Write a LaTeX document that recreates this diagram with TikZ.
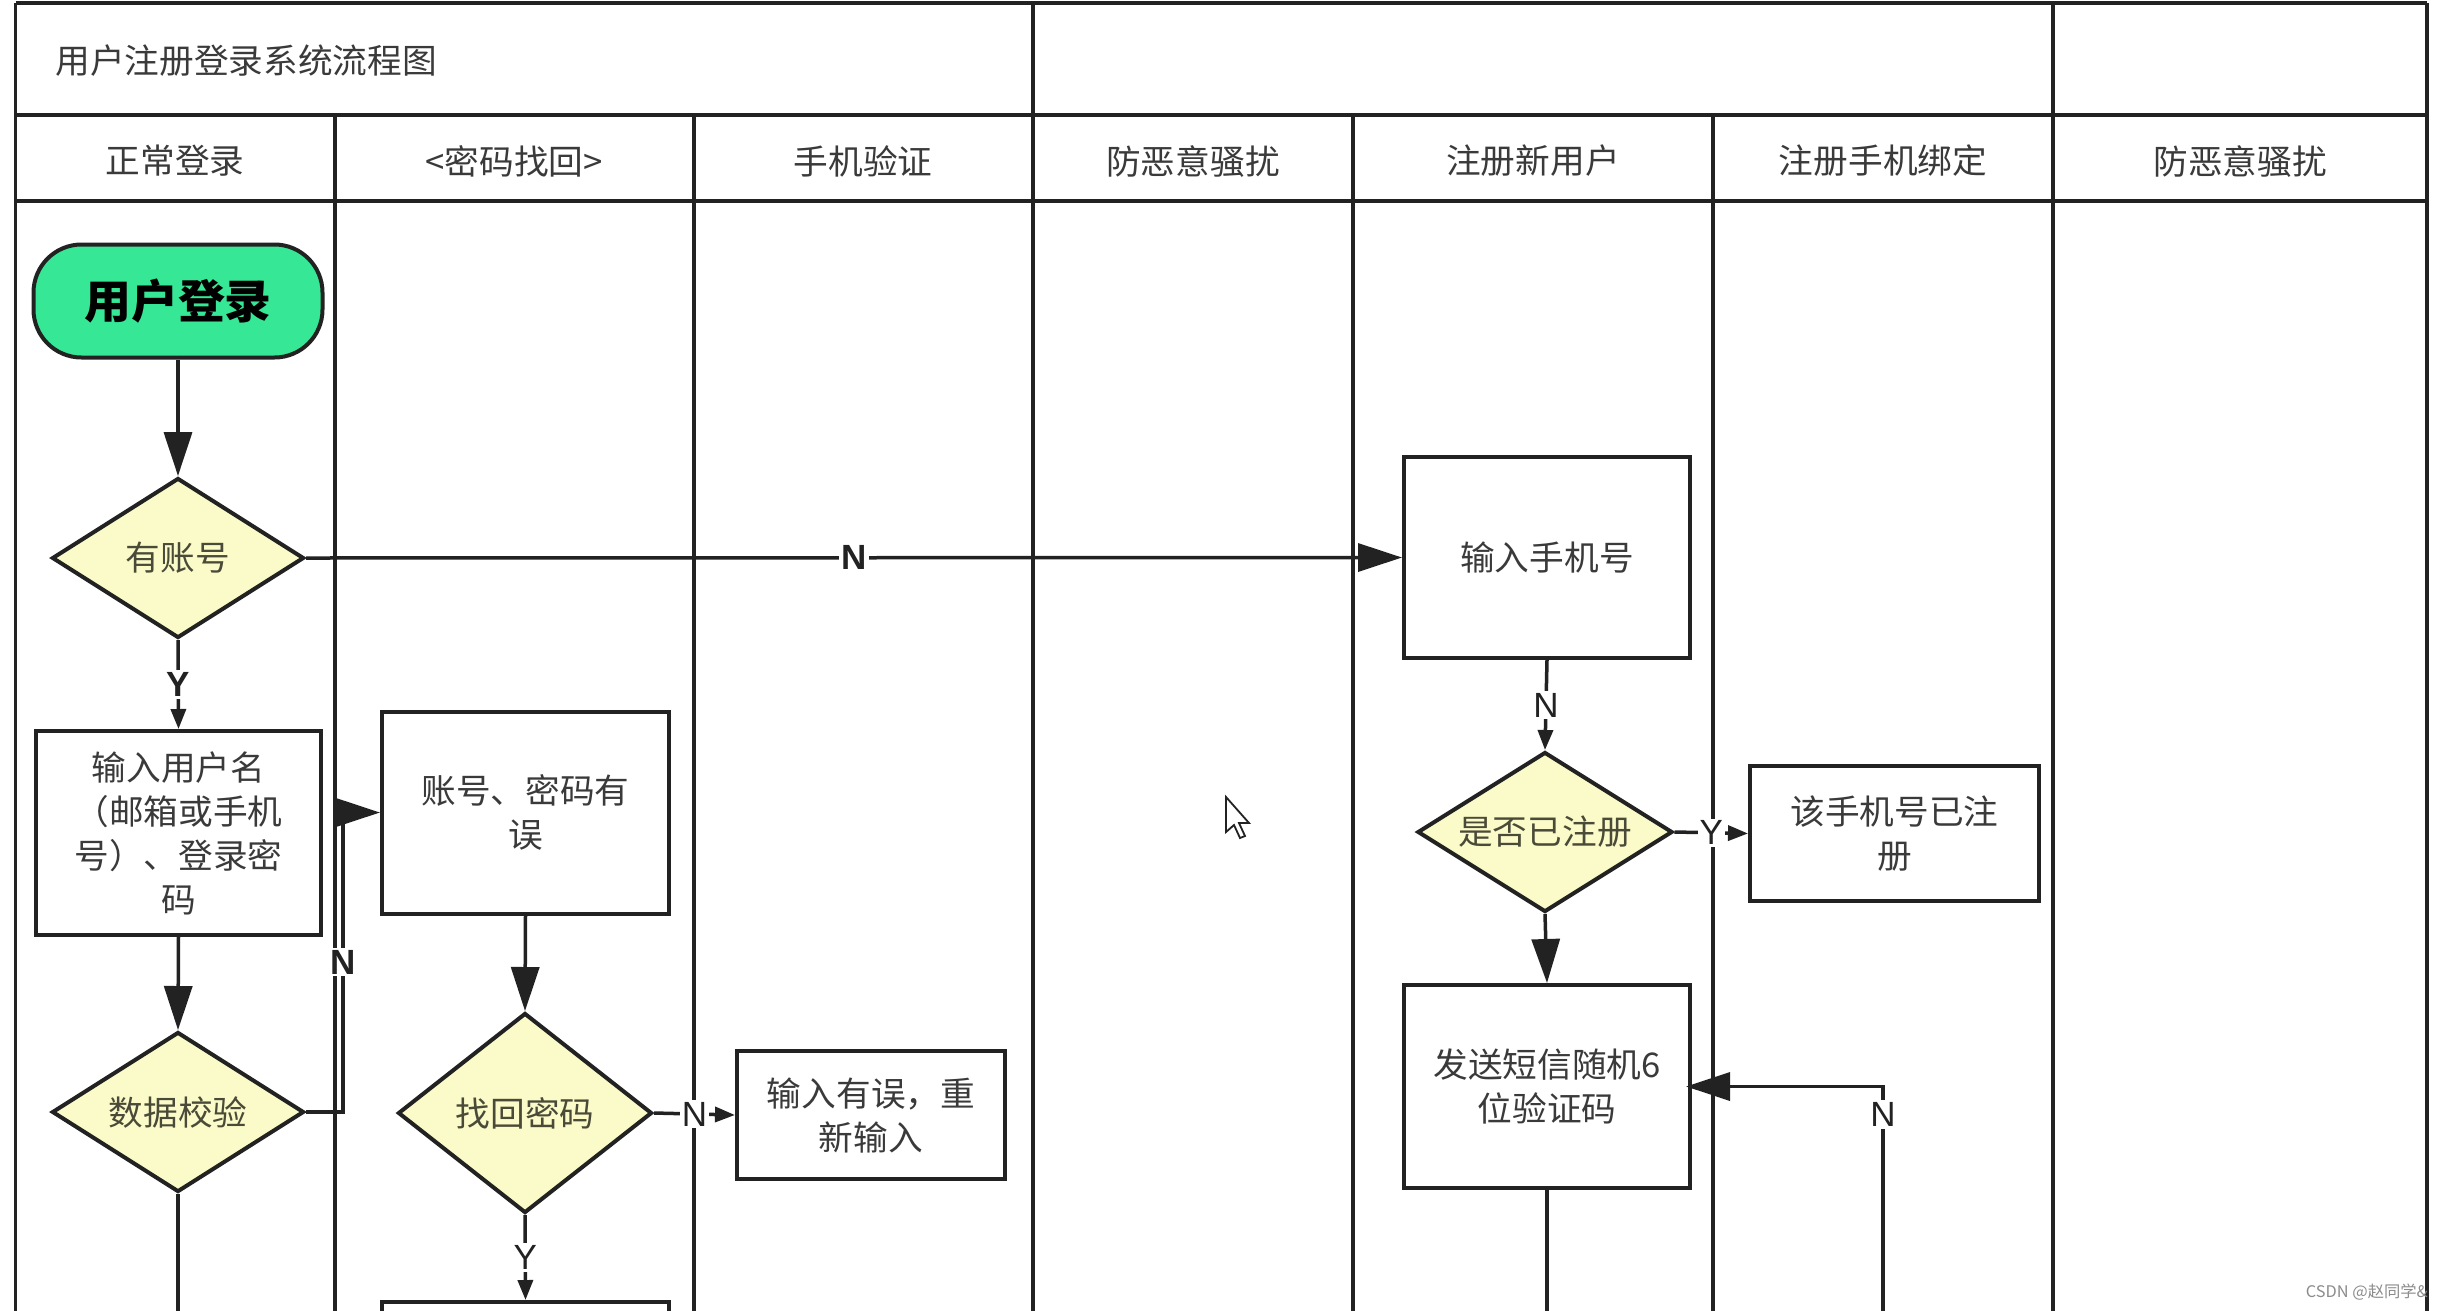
\documentclass[tikz,border=0pt]{standalone}
\usepackage{fontspec}
\setmainfont{Noto Sans CJK SC}[FakeStretch=1.02]
\newfontfamily\latinf{Liberation Sans}
\usetikzlibrary{shapes.geometric,arrows.meta}
\definecolor{linec}{HTML}{222222}
\definecolor{txt}{HTML}{3A3A3A}
\definecolor{dectxt}{HTML}{4A4A38}
\definecolor{decfill}{HTML}{FBFBC9}
\definecolor{startgreen}{HTML}{36E896}
\newcommand\boxfont{\fontsize{34}{44}\selectfont}
\newcommand\startfont{\fontsize{46}{50}\selectfont\bfseries}
\newcommand\labfont{\latinf\fontsize{35}{38}\selectfont}
\newcommand\labfontb{\latinf\bfseries\fontsize{35}{38}\selectfont}
\tikzset{
  grid/.style={line width=3.5pt, draw=linec},
  proc/.style={rectangle, draw=linec, line width=4pt, fill=white, inner sep=0pt, align=center, text=txt, font=\boxfont},
  dec/.style={diamond, draw=linec, line width=4pt, fill=decfill, inner sep=0pt, aspect=1.6, align=center, text=dectxt, font=\boxfont, minimum width=252pt, minimum height=160pt},
  term/.style={rectangle, rounded corners=48pt, draw=linec, line width=4pt, fill=startgreen, font=\startfont, text=black, minimum width=289pt, minimum height=113pt},
  conn/.style={draw=linec, line width=3.5pt},
  bigarr/.style={-{Triangle[length=44pt,width=28pt]}},
  smallarr/.style={-{Triangle[length=20pt,width=15pt]}},
  lab/.style={fill=white, inner sep=2pt, font=\labfont, text=linec},
  labb/.style={fill=white, inner sep=2pt, font=\labfontb, text=linec},
  headtxt/.style={font=\boxfont, text=txt},
}
\begin{document}
\begin{tikzpicture}[x=1pt,y=-1pt]
\clip (0,0) rectangle (2444,1310);
\fill[white] (0,0) rectangle (2444,1310);

% grid
\draw[grid] (15.6,3) -- (15.6,1320);
\draw[grid] (2427,3) -- (2427,1320);
\draw[grid] (15.6,3) -- (2427,3);
\draw[grid] (15.6,115) -- (2427,115);
\draw[grid] (15.6,201) -- (2427,201);
\foreach \x in {335,694,1353,1713} \draw[grid] (\x,115) -- (\x,1320);
\foreach \x in {1033,2053} \draw[grid] (\x,3) -- (\x,1320);

% title and headers
\node[headtxt, anchor=west] (title) at (52,61) {用户注册登录系统流程图};
\node[headtxt] (h1) at (175,161) {正常登录};
\node[headtxt] (h2) at (514,161) {<密码找回>};
\node[headtxt] (h3) at (863,161) {手机验证};
\node[headtxt] (h4) at (1193,161) {防恶意骚扰};
\node[headtxt] (h5) at (1533,161) {注册新用户};
\node[headtxt] (h6) at (1883,161) {注册手机绑定};
\node[headtxt] (h7) at (2240,161) {防恶意骚扰};

% nodes
\node[term] (start) at (178,301) {用户登录};
\node[dec] (has) at (178,558) {有账号};
\node[proc, minimum width=285pt, minimum height=204pt] (input) at (178.5,833) {输入用户名\\（邮箱或手机\\号）、登录密\\码};
\node[dec] (check) at (178,1112) {数据校验};
\node[proc, minimum width=287pt, minimum height=202pt] (err) at (525.5,812.5) {账号、密码有\\误};
\node[dec, minimum width=254pt, minimum height=200pt] (find) at (525,1113) {找回密码};
\node[proc, minimum width=268pt, minimum height=128pt] (retry) at (871,1115) {输入有误，重\\新输入};
\node[proc, minimum width=287pt, minimum height=120pt, anchor=north] (nextbox) at (525.5,1300) {};
\node[proc, minimum width=286pt, minimum height=201pt] (phone) at (1547,557.5) {输入手机号};
\node[dec, minimum width=255pt] (reg) at (1545,832) {是否已注册};
\node[proc, minimum width=289pt, minimum height=135pt] (already) at (1894.5,833.5) {该手机号已注\\册};
\node[proc, minimum width=286pt, minimum height=203pt] (sms) at (1547,1086.5) {发送短信随机6\\位验证码};

\coordinate (loopx) at (343,0);
\coordinate (checkend) at (178,1330);
\coordinate (smsend) at (1545,1330);
\coordinate (loopstart) at (1883,1330);

% connectors
\draw[conn, bigarr] (start) -- (has);
\draw[conn, bigarr] (has.east) -- node[labb, pos=0.5] {N} (phone.west);
\draw[conn, smallarr] (has.south) -- node[labb, pos=0.5] {Y} (input.north);
\draw[conn, bigarr] (input.south) -- (check.north);
\draw[conn, bigarr] (check.east) -- (check.east -| loopx) -- node[labb, pos=0.5] {N} (err.west -| loopx) -- (err.west);
\draw[conn] (check.south) -- (check.south |- checkend);
\draw[conn, bigarr] (err.south) -- (find.north);
\draw[conn, smallarr] (find.east) -- node[lab, pos=0.5] {N} (retry.west);
\draw[conn, smallarr] (find.south) -- node[lab, pos=0.5] {Y} (nextbox.north);
\draw[conn, smallarr] (phone.south) -- node[lab, pos=0.5] {N} (reg.north);
\draw[conn, smallarr] (reg.east) -- node[lab, pos=0.5] {Y} (already.west);
\draw[conn, bigarr] (reg.south) -- (sms.north);
\draw[conn] (sms.south) -- (sms.south |- smsend);
\draw[conn, bigarr, shorten >=-6pt] (loopstart) -- node[lab, pos=0.885] {N} (loopstart |- sms.east) -- (sms.east);

% cursor
\draw[line width=1.8pt, draw=linec, fill=white] (1226,797) -- (1226,832) -- (1234,825) -- (1240,838) -- (1245,836) -- (1239,823) -- (1249,823) -- cycle;

% watermark
\node[anchor=east, text=black!45, font=\fontsize{16}{16}\selectfont, inner sep=0pt] (wm) at (2428,1292) {CSDN @赵同学\&};
\end{tikzpicture}
\end{document}
